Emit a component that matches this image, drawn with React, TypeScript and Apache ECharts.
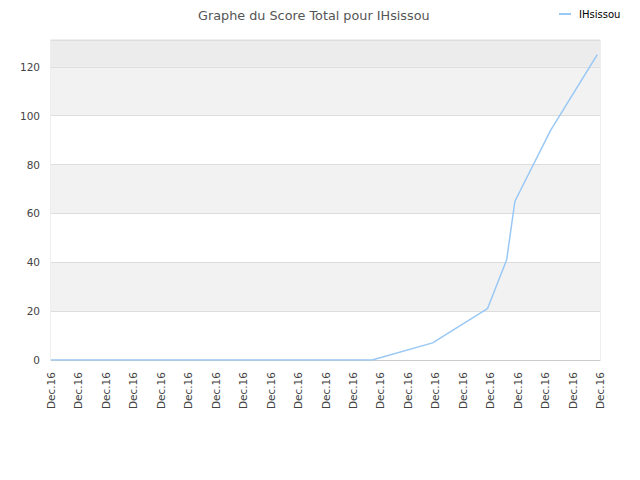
import { useEffect, useRef } from "react";
import * as echarts from "echarts";

// x positions on the 21-tick date axis (tick index, fractional) and scores
const pointPositions = [0, 11.7, 13.9, 15.9, 16.6, 16.9, 18.2, 19.9];
const scores = [0, 0, 7, 21, 41, 65, 94, 125];
const tickLabel = "Dec.16";
const seriesName = "IHsissou";
const bandColors = ["#ffffff", "#f2f2f2", "#ffffff", "#f2f2f2", "#ffffff", "#f2f2f2", "#ececec"];

const FONT = "DejaVu Sans";

export default function App() {
  const ref = useRef<HTMLDivElement>(null);

  useEffect(() => {
    document.body.style.margin = "0";
    if (!ref.current) return;
    const chart = echarts.init(ref.current, undefined, { renderer: "svg" });

    chart.setOption({
      animation: false,
      backgroundColor: "#ffffff",
      title: {
        text: "Graphe du Score Total pour IHsissou",
        left: 193,
        top: 4,
        textStyle: { fontFamily: FONT, fontSize: 12.8, fontWeight: "normal", color: "#555555" },
      },
      legend: {
        data: [{ name: seriesName, icon: "rect" }],
        left: 554,
        top: 4,
        itemWidth: 12,
        itemHeight: 2,
        itemGap: 6,
        textStyle: { fontFamily: FONT, fontSize: 10, color: "#000000", padding: [0, 0, 0, 3] },
      },
      grid: {
        left: 51,
        right: 40,
        top: 40,
        bottom: 120,
        show: true,
        borderColor: "#dddddd",
        borderWidth: 1,
        backgroundColor: "transparent",
      },
      xAxis: {
        type: "value",
        min: 0,
        max: 20,
        interval: 1,
        axisLine: { show: true, lineStyle: { color: "#cccccc" } },
        axisTick: { show: false },
        splitLine: { show: false },
        axisLabel: {
          rotate: 90,
          margin: 12,
          fontFamily: FONT,
          fontSize: 10.5,
          color: "#444444",
          showMinLabel: true,
          showMaxLabel: true,
          formatter: () => tickLabel,
        },
      },
      yAxis: {
        type: "value",
        min: 0,
        max: 131,
        interval: 20,
        axisLine: { show: false },
        axisTick: { show: false },
        axisLabel: {
          margin: 11,
          fontFamily: FONT,
          fontSize: 10.5,
          color: "#444444",
          showMaxLabel: false,
        },
        splitLine: { show: true, lineStyle: { color: "#dddddd", width: 1 } },
        splitArea: { show: true, areaStyle: { color: bandColors } },
      },
      series: [
        {
          name: seriesName,
          type: "line",
          symbol: "none",
          data: pointPositions.map((x, i) => [x, scores[i]]),
          lineStyle: { color: "#99c8f5", width: 1.5 },
          itemStyle: { color: "#99c8f5" },
        },
      ],
    });

    return () => chart.dispose();
  }, []);

  return <div ref={ref} style={{ width: 640, height: 480 }} />;
}
